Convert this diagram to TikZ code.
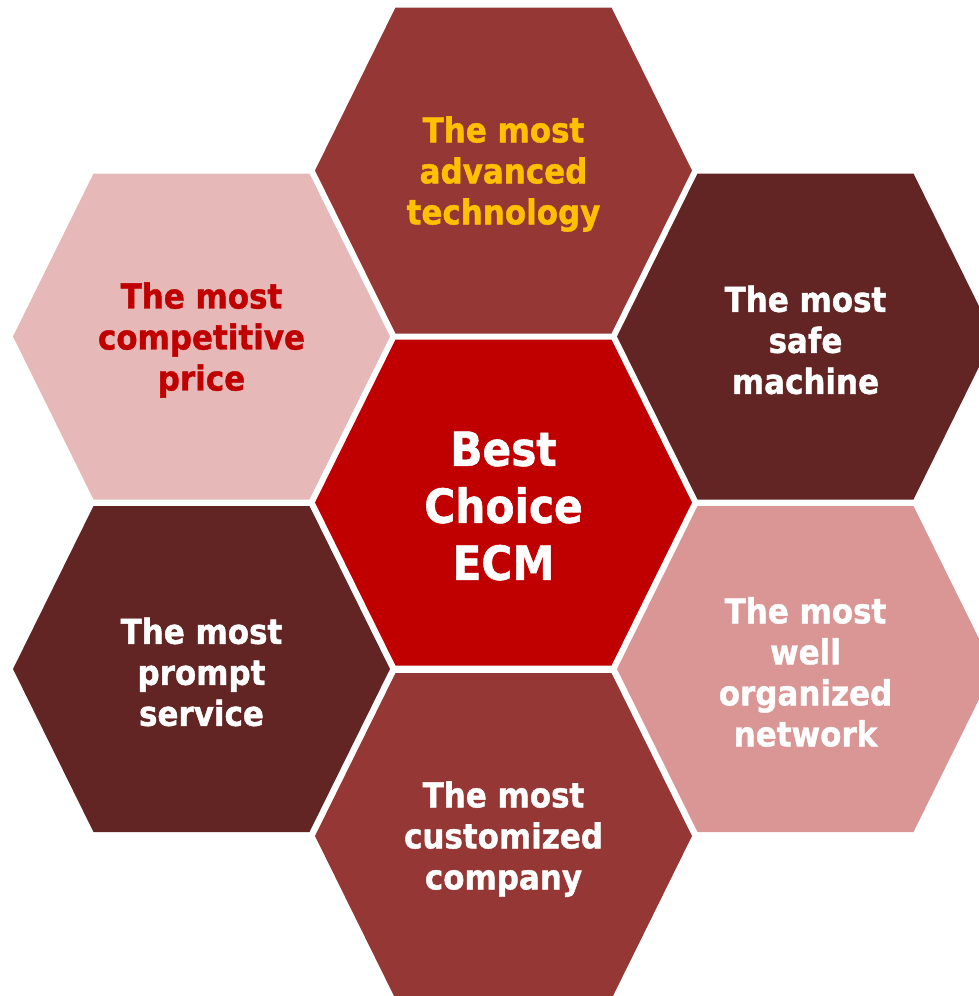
\documentclass[tikz,border=0pt]{standalone}
\usepackage{fontspec}
\newfontfamily\hexfont{DejaVu Sans}[FakeStretch=0.9, FakeBold=1.2]
\definecolor{midred}{HTML}{953735}
\definecolor{darkred}{HTML}{632523}
\definecolor{palered}{HTML}{E6B9B8}
\definecolor{rosered}{HTML}{D99694}
\definecolor{corered}{HTML}{C00000}
\definecolor{goldtxt}{HTML}{FFC000}
\tikzset{
  hexa/.pic={\path[pic actions] (-188.5,0) -- (-108,163) -- (108,163) -- (188.5,0) -- (108,-163) -- (-108,-163) -- cycle;},
  hextext/.style={align=center, inner sep=0pt, font=\hexfont\bfseries\fontsize{34.4}{41}\selectfont},
  coretext/.style={align=center, inner sep=0pt, font=\hexfont\bfseries\fontsize{47}{57}\selectfont}
}
\begin{document}
\begin{tikzpicture}[x=1pt,y=-1pt]
\useasboundingbox (0,0) rectangle (979,996);
\begin{scope}
\clip (0,0) rectangle (979,996);
\pic[fill=midred] at (503.5,170.5) {hexa};
\pic[fill=palered] at (201.5,336.5) {hexa};
\pic[fill=darkred] at (805.5,336.5) {hexa};
\pic[fill=corered] at (503.5,502.5) {hexa};
\pic[fill=darkred] at (201.5,669) {hexa};
\pic[fill=rosered] at (805.5,669) {hexa};
\pic[fill=midred] at (503.5,836) {hexa};
\end{scope}
\node[hextext, text=goldtxt] (ttop) at (503.5,174) {The most\\advanced\\technology};
\node[hextext, text=corered] (ttl) at (201.5,340) {The most\\competitive\\price};
\node[hextext, text=white] (ttr) at (805.5,340) {The most\\safe\\machine};
\node[coretext, text=white] (tcore) at (503.5,506) {Best\\Choice\\ECM};
\node[hextext, text=white] (tbl) at (201.5,672) {The most\\prompt\\service};
\node[hextext, text=white] (tbr) at (805.5,672) {The most\\well\\organized\\network};
\node[hextext, text=white] (tbot) at (503.5,839) {The most\\customized\\company};
\end{tikzpicture}
\end{document}
